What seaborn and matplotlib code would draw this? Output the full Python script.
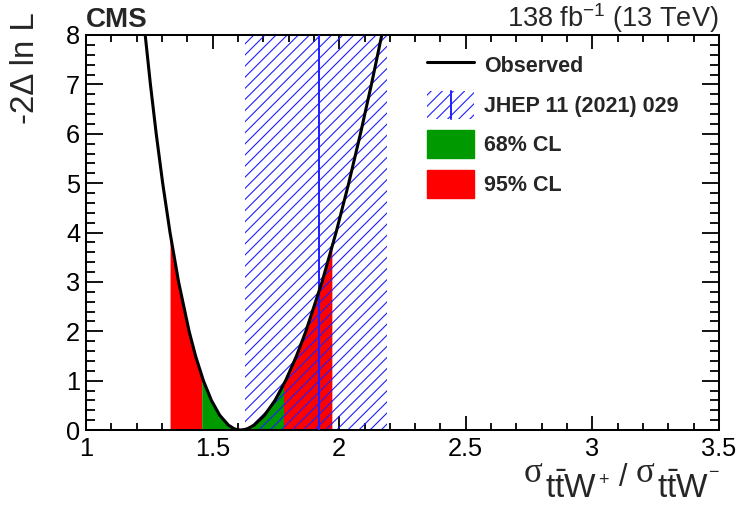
import numpy as np
import matplotlib
matplotlib.use("Agg")
import matplotlib.pyplot as plt
import seaborn as sns
from matplotlib.lines import Line2D
from matplotlib.patches import Patch, Rectangle
from matplotlib.legend_handler import HandlerBase

# ---------------- data ----------------
curve_x = [1.2297, 1.2544, 1.2773, 1.3028, 1.3318, 1.3657, 1.4072, 1.4327,
           1.4636, 1.4953, 1.5280, 1.5621, 1.5836, 1.5946, 1.6100, 1.6269,
           1.6394, 1.6642, 1.7051, 1.7464, 1.7884, 1.8313, 1.8684, 1.9322,
           1.9876, 2.0377, 2.0839, 2.1273, 2.1764]
curve_y = [8.2, 7.0, 6.0, 5.0, 4.0, 3.0, 2.0, 1.5,
           1.0, 0.6, 0.3, 0.1, 0.03, 0.01, 0.0, 0.01,
           0.03, 0.1, 0.3, 0.6, 1.0, 1.5, 2.0, 3.0,
           4.0, 5.0, 6.0, 7.0, 8.2]
cl68_interval = [1.457, 1.780]
cl95_interval = [1.332, 1.971]
theory_band = [1.628, 2.188]
theory_central = 1.922
legend_labels = ["Observed", "JHEP 11 (2021) 029", "68% CL", "95% CL"]
x_ticks = [1, 1.5, 2, 2.5, 3, 3.5]
x_ticklabels = ["1", "1.5", "2", "2.5", "3", "3.5"]
y_ticks = [0, 1, 2, 3, 4, 5, 6, 7, 8]

# ---------------- style ----------------
sns.set_style("ticks")
plt.rcParams["font.family"] = ["Liberation Sans", "DejaVu Sans"]
plt.rcParams["mathtext.fontset"] = "custom"
plt.rcParams["mathtext.rm"] = "Liberation Sans"
plt.rcParams["mathtext.it"] = "Liberation Sans:italic"
plt.rcParams["mathtext.bf"] = "Liberation Sans:bold"
plt.rcParams["hatch.linewidth"] = 0.8

DPI = 100
W, H = 740, 507
BLUE = "#1f1fff"
GREEN = "#009900"
RED = "#ff0000"

fig = plt.figure(figsize=(W / DPI, H / DPI), dpi=DPI)
fig.patch.set_facecolor("white")
ax = fig.add_axes([86 / W, 77 / H, 633 / W, 395 / H])
ax.set_facecolor("white")

cx = np.array(curve_x)
cy = np.array(curve_y)

# confidence-level fills under the curve
def fill_interval(lo, hi, color):
    xs = np.linspace(lo, hi, 200)
    ax.fill_between(xs, 0, np.interp(xs, cx, cy), color=color, lw=0, zorder=1)

fill_interval(cl95_interval[0], cl68_interval[0], RED)
fill_interval(cl68_interval[0], cl68_interval[1], GREEN)
fill_interval(cl68_interval[1], cl95_interval[1], RED)

# theory band (hatched) and central value
ax.axvspan(theory_band[0], theory_band[1], facecolor="none", edgecolor=BLUE,
           hatch="///", lw=0, zorder=2)
ax.axvline(theory_central, color=BLUE, lw=1.4, zorder=3)

# observed likelihood scan
sns.lineplot(x=cx, y=cy, ax=ax, color="black", lw=2.2, sort=False,
             zorder=4, legend=False)

ax.set_xlim(1, 3.5)
ax.set_ylim(0, 8)
ax.set_xticks(x_ticks)
ax.set_xticklabels(x_ticklabels)
ax.set_yticks(y_ticks)
ax.xaxis.set_minor_locator(matplotlib.ticker.MultipleLocator(0.1))
ax.yaxis.set_minor_locator(matplotlib.ticker.MultipleLocator(0.2))
ax.tick_params(axis="both", which="both", direction="in", top=True, right=True,
               width=1.3, color="black", labelcolor="black", labelsize=18.3)
ax.tick_params(axis="x", which="major", length=10, pad=5)
ax.tick_params(axis="x", which="minor", length=5)
ax.tick_params(axis="y", which="major", length=12, pad=4.2)
ax.tick_params(axis="y", which="minor", length=6.5)
for sp in ax.spines.values():
    sp.set_visible(True)
    sp.set_linewidth(1.45)
    sp.set_color("black")
ax.set_xlabel("")
ax.set_ylabel("")

def fx(px):
    return px / W

def fy(py):
    return 1 - py / H

# y axis title
fig.text(fx(25), fy(12), "-2Δ ln L", rotation=90, ha="center", va="top",
         fontsize=23.8)

# x axis title, composed from pieces (ROOT-like large subscripts)
sig_font = ["Liberation Serif", "DejaVu Serif"]
fig.text(fx(524), fy(482), "σ", family=sig_font, fontsize=25, ha="left", va="baseline")
fig.text(fx(545), fy(498), r"$\mathrm{t\bar{t}W}$", fontsize=24, ha="left", va="baseline")
fig.text(fx(598), fy(485), "+", fontsize=13, ha="left", va="baseline")
fig.text(fx(619), fy(486), "/", fontsize=22, ha="left", va="baseline")
fig.text(fx(636), fy(482), "σ", family=sig_font, fontsize=25, ha="left", va="baseline")
fig.text(fx(657), fy(498), r"$\mathrm{t\bar{t}W}$", fontsize=24, ha="left", va="baseline")
fig.text(fx(708), fy(477), "−", fontsize=13, ha="left", va="baseline")

# header texts
fig.text(fx(86), fy(27), "CMS", fontweight="bold", fontsize=20,
         ha="left", va="baseline")
fig.text(fx(718), fy(27), r"138 fb$^{-1}$ (13 TeV)", fontsize=19.5,
         ha="right", va="baseline")

# legend
class HatchLineHandler(HandlerBase):
    def create_artists(self, legend, orig_handle, xdescent, ydescent, width,
                       height, fontsize, trans):
        r = Rectangle((-xdescent, -ydescent), width, height, facecolor="none",
                      edgecolor=BLUE, hatch="///", lw=0, transform=trans)
        l = Line2D([-xdescent + width / 2] * 2, [-ydescent, -ydescent + height],
                   color=BLUE, lw=1.4, transform=trans)
        return [r, l]

h_obs = Line2D([], [], color="black", lw=2.2)
h_th = Patch(facecolor="none", edgecolor=BLUE)
h_68 = Patch(facecolor=GREEN, edgecolor=GREEN)
h_95 = Patch(facecolor=RED, edgecolor=RED)
leg = ax.legend([h_obs, h_th, h_68, h_95], legend_labels,
                handler_map={h_th: HatchLineHandler()},
                loc="upper left", bbox_to_anchor=(0.539, 0.9595), frameon=False,
                borderpad=0, borderaxespad=0, handlelength=2.18,
                handleheight=1.63, handletextpad=0.46, labelspacing=0.535,
                prop={"weight": "bold", "size": 15.5})

fig.savefig("out.png", dpi=DPI, facecolor="white")
